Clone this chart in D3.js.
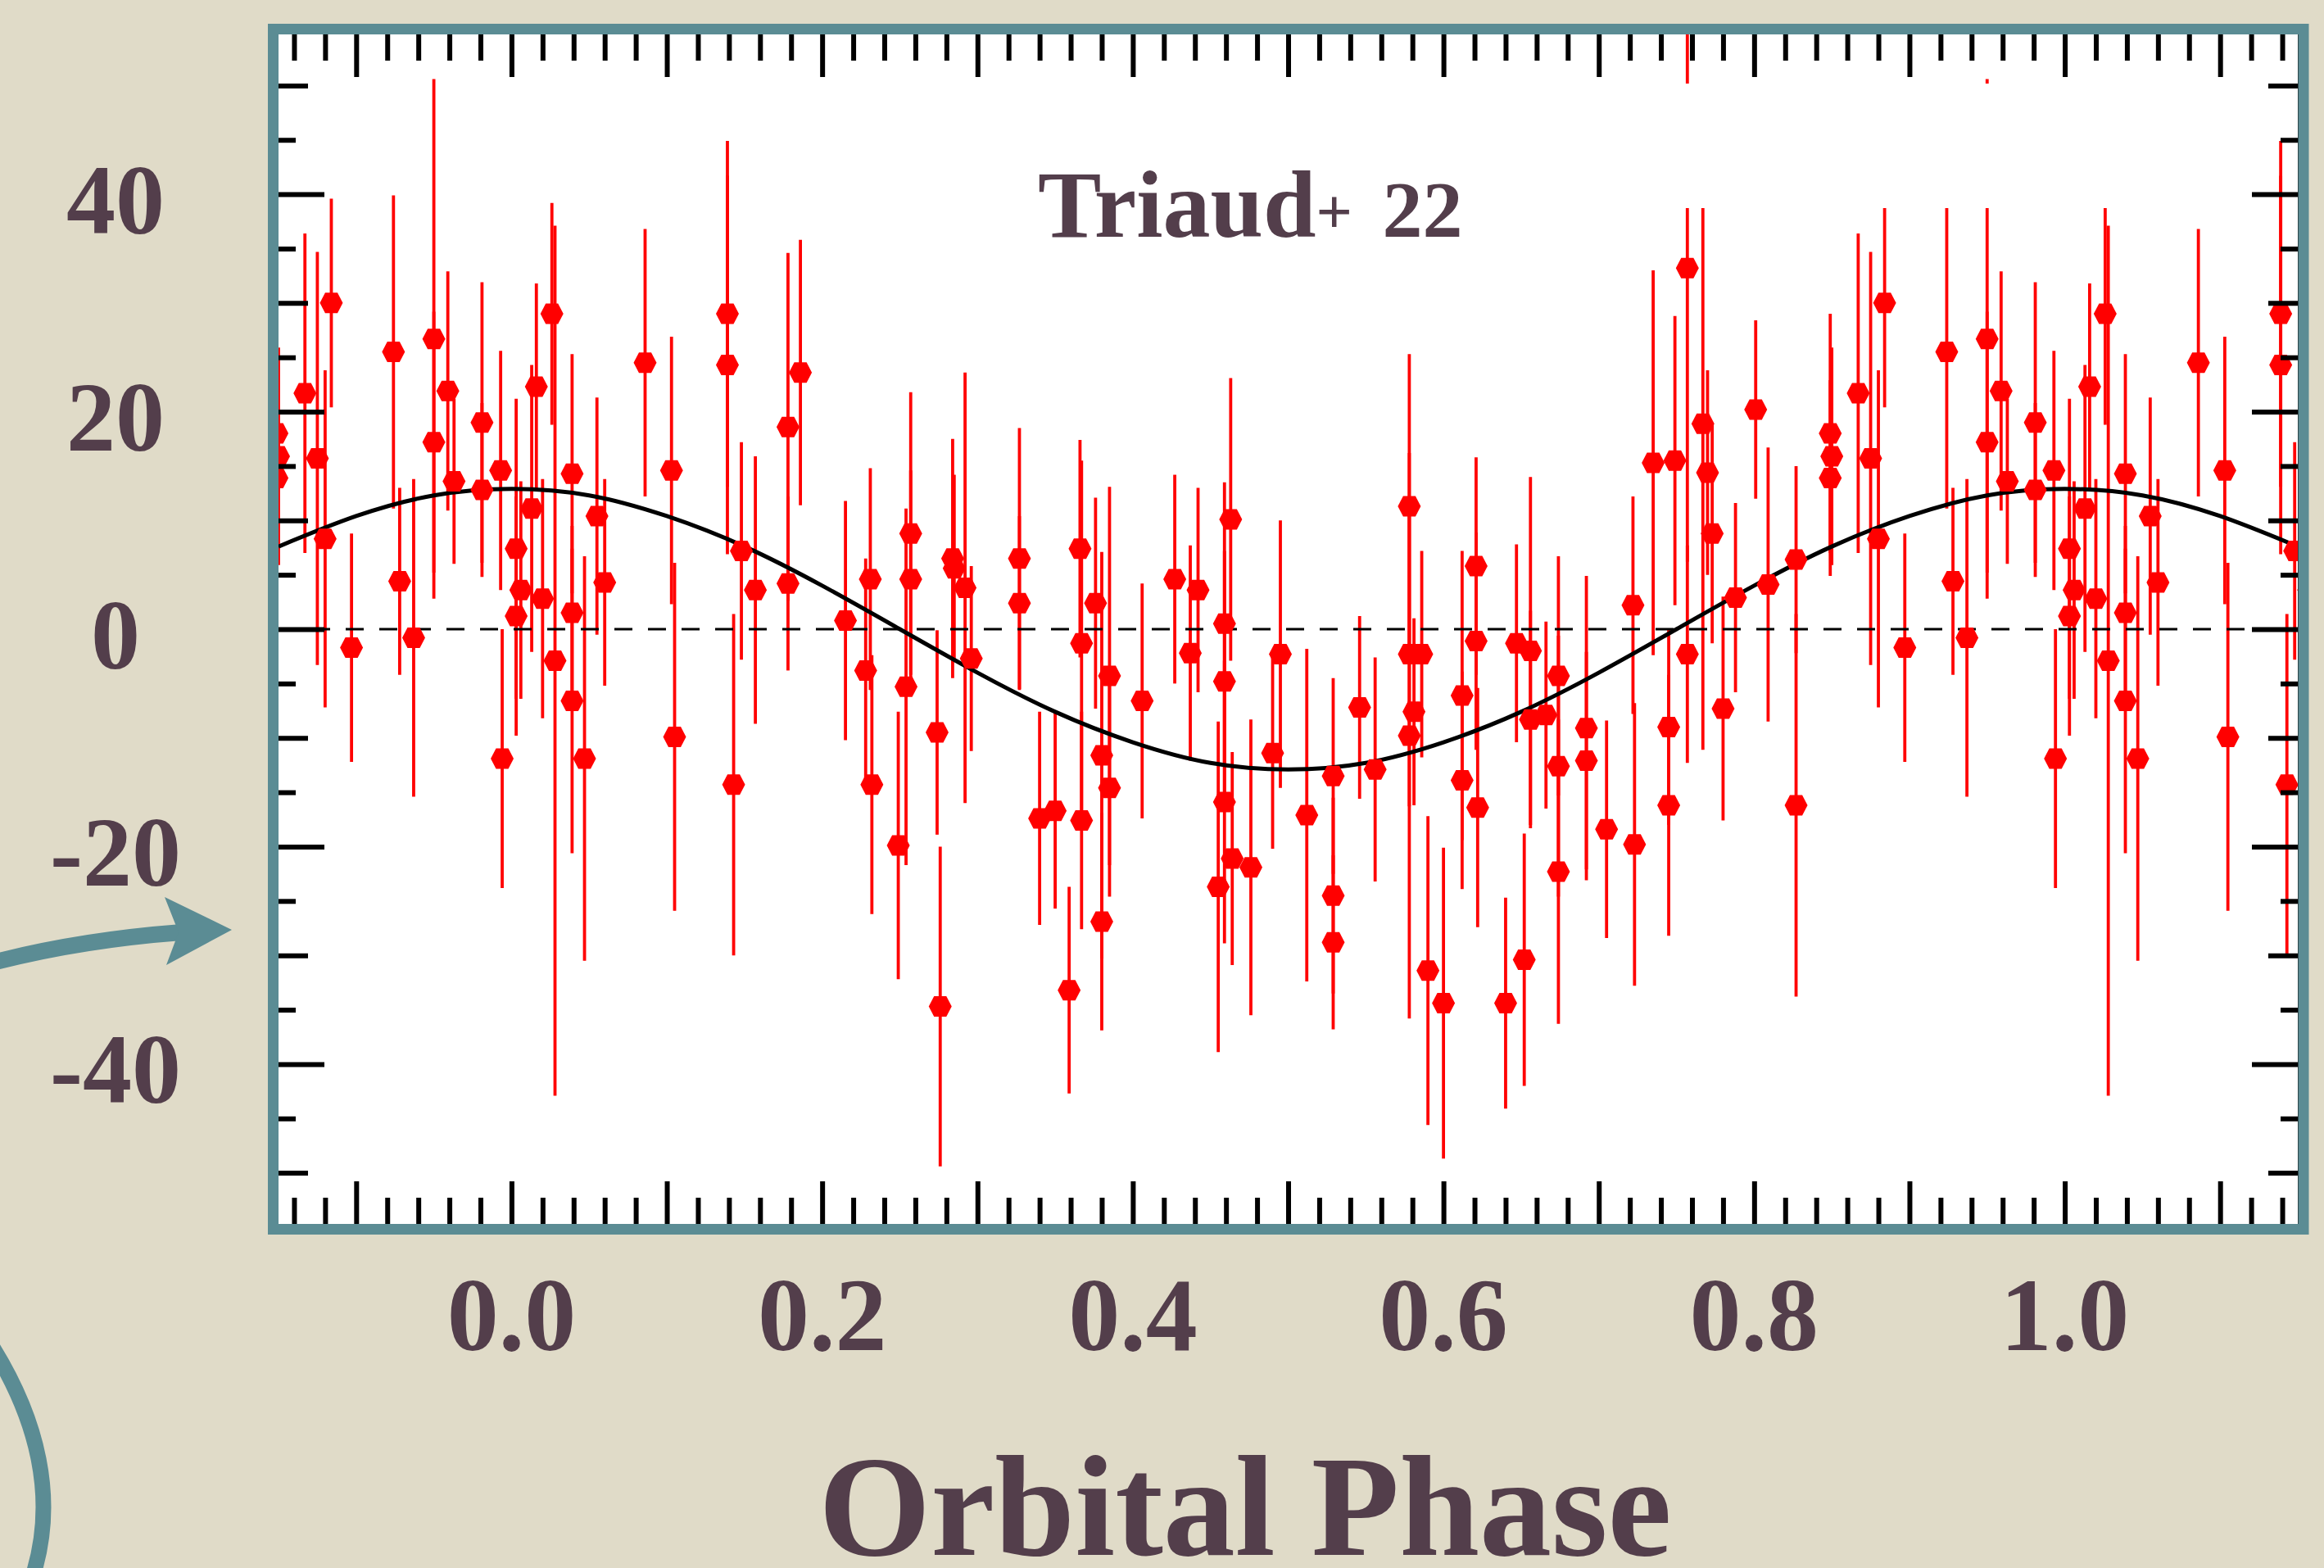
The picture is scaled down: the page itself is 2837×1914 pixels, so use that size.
<!DOCTYPE html>
<html>
<head>
<meta charset="utf-8">
<script src="https://cdn.jsdelivr.net/npm/d3@7"></script>
<style>
  html, body { margin: 0; padding: 0; background: #e0dbc8; }
  svg { display: block; }
</style>
</head>
<body>
<script>
// radial velocities, folded on the orbital period (phase 0-1)
const phase = [
  0.003, 0.003, 0.006, 0.013, 0.016, 0.020, 0.026, 0.028, 0.039, 0.039, 0.039, 0.047, 0.055, 0.060,
  0.086, 0.103, 0.105, 0.139, 0.139, 0.143, 0.148, 0.157, 0.178, 0.178, 0.186,
  0.215, 0.228, 0.231, 0.232, 0.249, 0.254, 0.257, 0.257, 0.274, 0.276, 0.284, 0.285, 0.292, 0.296,
  0.327, 0.327, 0.340, 0.350, 0.359, 0.366, 0.367, 0.367, 0.376, 0.380, 0.380, 0.385, 0.385,
  0.406, 0.427, 0.437, 0.442, 0.455, 0.459, 0.459, 0.459, 0.463, 0.464, 0.476, 0.490, 0.495,
  0.512, 0.529, 0.529, 0.529, 0.546, 0.556, 0.578, 0.578, 0.578, 0.581, 0.586, 0.590,
  0.600, 0.612, 0.612, 0.621, 0.621, 0.622, 0.640, 0.647, 0.652, 0.656, 0.656, 0.666, 0.674, 0.674,
  0.674, 0.692, 0.692, 0.705, 0.722, 0.723, 0.735, 0.745, 0.745, 0.749, 0.757, 0.757, 0.767, 0.770,
  0.773, 0.780,
  0.788, 0.801, 0.809, 0.827, 0.827, 0.849, 0.850, 0.849, 0.867, 0.875, 0.880, 0.884, 0.897,
  0.924, 0.928, 0.937, 0.950, 0.950, 0.959, 0.963, 0.981, 0.981, 0.993, 0.994
];
const rv = [
  7.4, 1.2, 3.6, 11.1, 22.3, 2.8, 29.0, -2.9, 14.3, 1.5, -6.6, -11.9, 10.4, 4.3,
  24.5, 14.6, -9.9, 29.0, 24.3, -14.3, 7.2, 3.6, 18.6, 4.2, 23.6,
  0.8, -3.8, 4.6, -14.3, -19.9, -5.3, 8.8, 4.6, -9.5, -34.7, 6.5, 5.6, 3.8, -2.7,
  6.5, 2.4, -17.4, -16.7, -33.2, 7.4, -1.3, -17.6, 2.4, -11.6, -26.9, -4.3, -14.6,
  -6.6, 4.6, -2.2, 3.6, -23.7, 0.5, -4.8, -15.9, 10.1, -21.1, -21.9, -11.4, -2.3,
  -17.1, -13.5, -24.5, -28.8, -7.2, -12.9, 11.3, -2.3, -9.8, -7.6, -2.3, -31.4,
  -34.4, -6.1, -13.9, 5.8, -1.1, -16.4, -34.4, -1.3, -30.4, -2.0, -8.3, -7.9, -4.3, -12.6,
  -22.3, -9.1, -12.1, -18.4, 2.2, -19.8, 15.3, -9.0, -16.2, 15.5, 33.2, -2.3, 18.9, 14.4,
  8.8, -7.3,
  2.9, 20.2, 4.1, 6.4, -16.2, 18.0, 15.9, 13.9, 21.7, 15.7, 8.3, 30.0, -1.7,
  25.5, 4.4, -0.8, 26.7, 17.2, 21.9, 13.6, 19.0, 12.8, 14.6, -11.9
];
const rvErr = [
  13.8, 11.0, 10.0, 13.2, 9.5, 11.0, 10.2, 40.0, 11.0, 8.0, 14.0, 18.6, 10.9, 9.5,
  12.3, 12.3, 16.0, 15.9, 17.4, 15.7, 10.0, 12.3, 16.0, 8.0, 12.2,
  11.0, 10.3, 10.2, 11.9, 12.3, 16.4, 13.0, 10.0, 9.4, 14.7, 11.0, 8.6, 19.8, 8.5,
  12.0, 8.0, 9.8, 9.0, 9.5, 10.0, 16.8, 10.0, 9.7, 18.7, 10.0, 17.4, 10.0,
  10.8, 9.6, 9.9, 9.4, 15.2, 13.0, 12.0, 13.0, 13.0, 9.8, 13.6, 8.8, 12.3,
  15.3, 9.0, 9.0, 8.0, 8.4, 10.3, 14.0, 14.0, 26.0, 8.6, 9.5, 14.2,
  14.3, 13.3, 10.0, 10.0, 10.0, 11.0, 9.7, 9.1, 11.6, 16.0, 10.0, 8.6, 11.0, 12.0,
  14.0, 14.0, 10.0, 10.0, 10.0, 13.0, 17.7, 9.0, 12.0, 13.3, 27.0, 10.0, 30.0, 9.4,
  10.1, 10.3,
  8.7, 8.2, 12.6, 8.6, 17.6, 11.0, 10.0, 9.0, 14.7, 19.0, 15.5, 9.6, 10.5,
  14.4, 8.6, 14.6, 23.9, 12.0, 11.0, 7.6, 12.9, 8.0, 11.0, 11.9
];

// fitted orbit, every 0.05 in phase
const modelPhase = [
  -0.15, -0.10, -0.05, 0.00, 0.05, 0.10, 0.15, 0.20, 0.25, 0.30, 0.35, 0.40, 0.45, 0.50,
  0.55, 0.60, 0.65, 0.70, 0.75, 0.80, 0.85, 0.90, 0.95, 1.00, 1.05, 1.10, 1.15
];
const modelRv = [
  7.6, 10.4, 12.3, 12.9, 12.3, 10.4, 7.6, 4.0, 0.0, -4.0, -7.6, -10.4, -12.3, -12.9,
  -12.3, -10.4, -7.6, -4.0, 0.0, 4.0, 7.6, 10.4, 12.3, 12.9, 12.3, 10.4, 7.6
];

const xTickLabels = ["0.0", "0.2", "0.4", "0.6", "0.8", "1.0"];
const yTickLabels = ["40", "20", "0", "-20", "-40"];

const width = 2837;
const height = 1914;
const plot = { left: 340, right: 2805, top: 42, bottom: 1494 };
const ink = "#533e4b";
const teal = "#5b8c94";
const serif = "'Liberation Serif', 'DejaVu Serif', serif";

const svg = d3.select("body")
  .append("svg")
  .attr("width", width)
  .attr("height", height);

svg.append("rect")
  .attr("width", width)
  .attr("height", height)
  .attr("fill", "#e0dbc8");

const x = d3.scaleLinear().domain([-0.15, 1.15]).range([plot.left, plot.right]);
const y = d3.scaleLinear().domain([-54.7, 54.7]).range([plot.bottom, plot.top]);

svg.append("rect")
  .attr("x", plot.left)
  .attr("y", plot.top)
  .attr("width", plot.right - plot.left)
  .attr("height", plot.bottom - plot.top)
  .attr("fill", "#fff");

svg.append("clipPath")
  .attr("id", "clip")
  .append("rect")
  .attr("x", plot.left)
  .attr("y", plot.top)
  .attr("width", plot.right - plot.left)
  .attr("height", plot.bottom - plot.top);

let g = svg.append("g").attr("clip-path", "url(#clip)");

// repeat each point one cycle before and after so the window -0.15..1.15 is filled
let points = [];
phase.forEach((p, i) => {
  [-1, 0, 1].forEach(k => {
    const ph = p + k;
    if (ph > -0.17 && ph < 1.17) points.push({ ph: ph, v: rv[i], e: rvErr[i] });
  });
});

g.selectAll(".err")
  .data(points)
  .enter()
  .append("line")
  .attr("class", "err")
  .attr("x1", d => x(d.ph))
  .attr("x2", d => x(d.ph))
  .attr("y1", d => y(d.v + d.e))
  .attr("y2", d => y(d.v - d.e))
  .attr("stroke", "#ff0000")
  .attr("stroke-width", 3.8);

g.append("line")
  .attr("x1", plot.left)
  .attr("x2", plot.right)
  .attr("y1", y(0))
  .attr("y2", y(0))
  .attr("stroke", "#000")
  .attr("stroke-width", 3)
  .attr("stroke-dasharray", "22,19");

const model = d3.line()
  .x(d => x(d[0]))
  .y(d => y(d[1]))
  .curve(d3.curveNatural);

g.append("path")
  .datum(d3.zip(modelPhase, modelRv))
  .attr("d", model)
  .attr("fill", "none")
  .attr("stroke", "#000")
  .attr("stroke-width", 5);

// flat-topped hexagon marker
const hexagon = {
  draw(context, size) {
    const w = 14, h = 12.5, f = 7.5;
    context.moveTo(-w, 0);
    context.lineTo(-f, -h);
    context.lineTo(f, -h);
    context.lineTo(w, 0);
    context.lineTo(f, h);
    context.lineTo(-f, h);
    context.closePath();
  }
};

g.selectAll(".pt")
  .data(points)
  .enter()
  .append("path")
  .attr("class", "pt")
  .attr("d", d3.symbol().type(hexagon))
  .attr("transform", d => "translate(" + x(d.ph) + "," + y(d.v) + ")")
  .attr("fill", "#ff0000");

// white text box of the slide that sits over the top of the data
g.append("rect")
  .attr("x", 1230)
  .attr("y", 102)
  .attr("width", 1470)
  .attr("height", 152)
  .attr("fill", "#fff");

let title = svg.append("text")
  .attr("x", 1267)
  .attr("y", 289)
  .attr("font-family", serif)
  .attr("font-weight", "bold")
  .attr("fill", ink);
title.append("tspan").attr("font-size", 116).text("Triaud");
title.append("tspan").attr("font-size", 78).attr("dy", -4).text("+");
title.append("tspan").attr("font-size", 98).attr("dy", 4).attr("dx", 12).text(" 22");

// tick marks on all four sides, three lengths on y, two on x
const yMajor = [-40, -20, 0, 20, 40];
const yMid = [-50, -30, -10, 10, 30, 50];
const yMinor = d3.range(-45, 50, 10);
const xMajor = d3.range(-1, 12).map(i => i / 10);
const xMinor = d3.range(-7, 58).filter(i => i % 5 !== 0).map(i => i * 0.02);

function ticks(axis, values, size, tx, ty) {
  let a = svg.append("g")
    .attr("transform", "translate(" + tx + "," + ty + ")")
    .call(axis.tickValues(values).tickSize(size).tickFormat(""));
  a.select(".domain").remove();
  a.selectAll(".tick line").attr("stroke", "#000").attr("stroke-width", 6);
}

ticks(d3.axisRight(y), yMajor, 56, plot.left, 0);
ticks(d3.axisRight(y), yMid, 36, plot.left, 0);
ticks(d3.axisRight(y), yMinor, 21, plot.left, 0);
ticks(d3.axisLeft(y), yMajor, 56, plot.right, 0);
ticks(d3.axisLeft(y), yMid, 36, plot.right, 0);
ticks(d3.axisLeft(y), yMinor, 21, plot.right, 0);
ticks(d3.axisBottom(x), xMajor, 52, 0, plot.top);
ticks(d3.axisBottom(x), xMinor, 32, 0, plot.top);
ticks(d3.axisTop(x), xMajor, 52, 0, plot.bottom);
ticks(d3.axisTop(x), xMinor, 32, 0, plot.bottom);

svg.append("rect")
  .attr("x", plot.left - 1)
  .attr("y", plot.top - 1)
  .attr("width", plot.right - plot.left + 2)
  .attr("height", plot.bottom - plot.top + 2)
  .attr("fill", "none")
  .attr("stroke", "#000")
  .attr("stroke-width", 2);

svg.append("rect")
  .attr("x", 333.5)
  .attr("y", 35.5)
  .attr("width", 2478.5)
  .attr("height", 1465)
  .attr("fill", "none")
  .attr("stroke", teal)
  .attr("stroke-width", 13);

// labels
svg.selectAll(".ylab")
  .data(yTickLabels)
  .enter()
  .append("text")
  .attr("class", "ylab")
  .attr("x", 141)
  .attr("y", d => y(+d) + 8)
  .attr("dy", "0.33em")
  .attr("text-anchor", "middle")
  .attr("font-family", serif)
  .attr("font-weight", "bold")
  .attr("font-size", 120)
  .attr("fill", ink)
  .text(d => d);

svg.selectAll(".xlab")
  .data(xTickLabels)
  .enter()
  .append("text")
  .attr("class", "xlab")
  .attr("x", d => x(+d))
  .attr("y", 1648)
  .attr("text-anchor", "middle")
  .attr("font-family", serif)
  .attr("font-weight", "bold")
  .attr("font-size", 126)
  .attr("fill", ink)
  .text(d => d);

svg.append("text")
  .attr("x", 1520)
  .attr("y", 1898)
  .attr("text-anchor", "middle")
  .attr("font-family", serif)
  .attr("font-weight", "bold")
  .attr("font-size", 176)
  .attr("fill", ink)
  .text("Orbital Phase");

// slide decorations at the left edge
svg.append("path")
  .attr("d", "M-20,1178 Q90,1148 222,1138")
  .attr("fill", "none")
  .attr("stroke", teal)
  .attr("stroke-width", 20);

svg.append("path")
  .attr("d", "M283,1135 L201,1095 L218,1138 L203,1178 Z")
  .attr("fill", teal);

svg.append("path")
  .attr("d", "M-12,1640 C45,1730 72,1830 38,1930")
  .attr("fill", "none")
  .attr("stroke", teal)
  .attr("stroke-width", 19);
</script>
</body>
</html>
